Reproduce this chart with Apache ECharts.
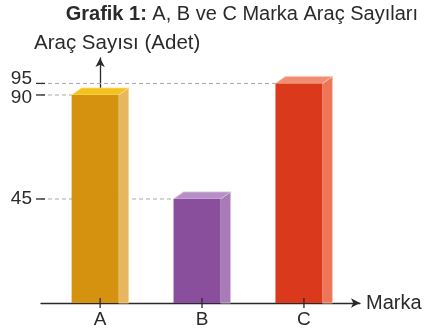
<!DOCTYPE html>
<html>
<head>
<meta charset="utf-8">
<script src="https://cdn.jsdelivr.net/npm/echarts@6/dist/echarts.min.js"></script>
<style>
  html, body { margin: 0; padding: 0; background: #fff; }
  #chart { width: 425px; height: 336px; }
</style>
</head>
<body>
<div id="chart"></div>
<script>
// Vehicle counts per brand
const categories = ['A', 'B', 'C'];
const values = [90, 45, 95];
const yTicks = [45, 90, 95];
const yAxisTitle = 'Araç Sayısı (Adet)';
const xAxisTitle = 'Marka';

// Face colours of each 3D bar: front, side, top, edge
const faceColors = [
  { front: '#d4920e', side: '#e6b661', top: '#f4c21c', edge: '#f7dc8a' },
  { front: '#8a4f9c', side: '#a87bb8', top: '#b68fc6', edge: '#d6bfe0' },
  { front: '#da3a1b', side: '#ee7657', top: '#f08d73', edge: '#f9c6b2' }
];

const FRONT_W = 47, SIDE_W = 10, DEPTH_Y = 7;
const INK = '#2a2a2a';
const FONT = 'Liberation Sans, Arial, sans-serif';

const chart = echarts.init(document.getElementById('chart'));

const barData = values.map((v, i) => [i, v]);

chart.setOption({
  animation: false,
  title: [
    {
      text: '{b|Grafik 1:} A, B ve C Marka Araç Sayıları',
      right: 2,
      top: -1,
      textStyle: {
        fontFamily: FONT,
        fontSize: 20,
        fontWeight: 'normal',
        color: INK,
        rich: { b: { fontFamily: FONT, fontSize: 20, fontWeight: 'bold', color: INK } }
      }
    },
    {
      // value axis title, left-aligned above the axis arrow
      text: yAxisTitle,
      left: 29,
      top: 28,
      textStyle: { fontFamily: FONT, fontSize: 20.5, fontWeight: 'normal', color: INK }
    }
  ],
  grid: { left: 41, right: 65, top: 58, bottom: 33 },
  xAxis: {
    type: 'value',
    min: -0.58,
    max: 2.55,
    name: xAxisTitle,
    nameLocation: 'end',
    nameGap: 6,
    nameTextStyle: { fontFamily: FONT, fontSize: 20, color: INK, verticalAlign: 'middle' },
    axisLine: {
      show: true,
      symbol: ['none', 'arrow'],
      symbolSize: [7, 9],
      lineStyle: { color: INK, width: 1.3 }
    },
    axisTick: { show: false },
    splitLine: { show: false },
    axisLabel: {
      customValues: categories.map((c, i) => i),
      formatter: v => categories[Math.round(v)],
      margin: 7,
      fontFamily: FONT,
      fontSize: 19,
      color: INK
    }
  },
  yAxis: {
    type: 'value',
    min: 0,
    max: 106,
    axisLine: {
      show: true,
      symbol: ['none', 'arrow'],
      symbolSize: [7, 9],
      lineStyle: { color: INK, width: 1.3 }
    },
    axisTick: { show: false },
    splitLine: { show: false },
    axisLabel: {
      customValues: yTicks,
      showMinLabel: true,
      showMaxLabel: true,
      hideOverlap: false,
      margin: 9,
      fontFamily: FONT,
      fontSize: 19,
      color: INK,
      // keep the close 90 / 95 labels apart
      formatter: v => v === 95 ? '{up|' + v + '}' : v === 90 ? '{dn|' + v + '}' : String(v),
      rich: {
        up: { fontFamily: FONT, fontSize: 19, color: INK, padding: [0, 0, 10, 0] },
        dn: { fontFamily: FONT, fontSize: 19, color: INK, padding: [6, 0, 0, 0] }
      }
    }
  },
  series: [
    {
      // dashed guides from the value axis to each bar, with crossing ticks
      type: 'custom',
      z: 1,
      data: barData,
      renderItem: (params, api) => {
        const cs = params.coordSys;
        const p = api.coord([api.value(0), api.value(1)]);
        const cx = api.coord([api.value(0), 0])[0];
        const leftEdge = cx - (FRONT_W + SIDE_W) / 2;
        return {
          type: 'group',
          children: [
            {
              type: 'line',
              shape: { x1: cs.x, y1: p[1], x2: leftEdge, y2: p[1] },
              style: { stroke: '#a8a8a8', lineWidth: 1, lineDash: [4, 3] }
            },
            {
              type: 'line',
              shape: { x1: cs.x - 5, y1: p[1], x2: cs.x + 4, y2: p[1] },
              style: { stroke: INK, lineWidth: 1.3 }
            }
          ]
        };
      }
    },
    {
      // 3D bars: front face, side face and top face
      type: 'custom',
      z: 2,
      data: barData,
      renderItem: (params, api) => {
        const i = api.value(0);
        const top = api.coord([i, api.value(1)]);
        const base = api.coord([i, 0]);
        const cx = base[0];
        const fl = cx - (FRONT_W + SIDE_W) / 2;
        const fr = fl + FRONT_W;
        const c = faceColors[params.dataIndex];
        return {
          type: 'group',
          children: [
            {
              type: 'polygon',
              shape: { points: [[fr, top[1]], [fr + SIDE_W, top[1] - DEPTH_Y], [fr + SIDE_W, base[1]], [fr, base[1]]] },
              style: { fill: c.side, stroke: c.edge, lineWidth: 0.8 }
            },
            {
              type: 'polygon',
              shape: { points: [[fl, top[1]], [fr, top[1]], [fr + SIDE_W, top[1] - DEPTH_Y], [fl + SIDE_W, top[1] - DEPTH_Y]] },
              style: { fill: c.top, stroke: c.edge, lineWidth: 0.8 }
            },
            {
              type: 'rect',
              shape: { x: fl, y: top[1], width: FRONT_W, height: base[1] - top[1] },
              style: { fill: c.front }
            },
            {
              type: 'line',
              shape: { x1: cx, y1: base[1] - 5, x2: cx, y2: base[1] + 5 },
              style: { stroke: INK, lineWidth: 1.3 }
            }
          ]
        };
      }
    }
  ]
});
</script>
</body>
</html>
